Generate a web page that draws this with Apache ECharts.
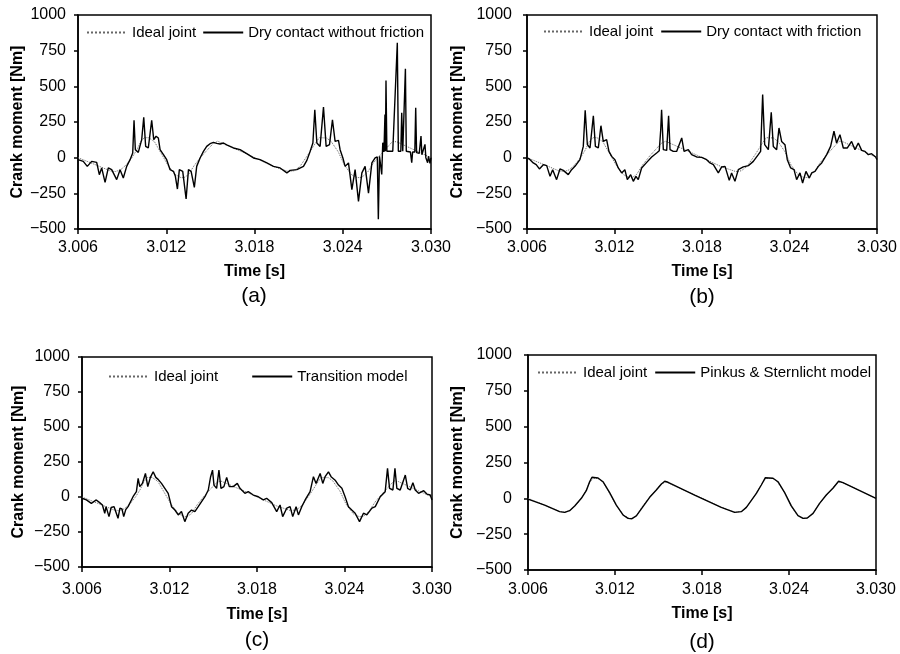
<!DOCTYPE html>
<html>
<head>
<meta charset="utf-8">
<script src="https://cdn.jsdelivr.net/npm/echarts@6/dist/echarts.min.js"></script>
<style>
html,body{margin:0;padding:0;background:#fff;}
#chart{width:900px;height:654px;}
</style>
</head>
<body>
<div id="chart"></div>
<script>
// ---- Data (time [s], crank moment [Nm]) ----
const idealJoint = [
[3.0060,0],[3.0072,-50],[3.0082,-93],[3.00855,-97],[3.0089,-85],[3.0093,-48],[3.0097,5],[3.0100,55],[3.01025,110],[3.0105,140],[3.0108,140],[3.0112,112],[3.0116,40],[3.0121,-50],[3.0126,-118],[3.0130,-140],[3.0132,-140],[3.0135,-120],[3.0139,-55],[3.0144,10],[3.0148,55],[3.0152,100],[3.0155,115],[3.0175,25],[3.0193,-62],[3.0203,-97],[3.0207,-92],[3.0211,-60],[3.0217,30],[3.0221,95],[3.0224,140],[3.0229,138],[3.0232,115],[3.0237,40],[3.0241,-50],[3.0246,-120],[3.0250,-140],[3.0253,-138],[3.0257,-100],[3.0261,-35],[3.0266,25],[3.0270,70],[3.0274,115],[3.0277,110],[3.0300,0]
];

const dryNoFriction = [
[3.00600,-14],[3.00636,-26],[3.00663,-61],[3.00693,-26],[3.00727,-33],[3.00745,-119],[3.00761,-72],[3.00784,-173],[3.00806,-72],[3.00829,-84],[3.00863,-154],[3.00886,-84],[3.00908,-143],[3.00931,-61],[3.00954,-14],[3.00972,33],[3.00981,262],[3.00990,56],[3.01010,37],[3.01033,126],[3.01047,283],[3.01060,79],[3.01078,68],[3.01101,262],[3.01115,126],[3.01131,150],[3.01146,138],[3.01158,56],[3.01181,21],[3.01203,-14],[3.01226,-84],[3.01249,-96],[3.01262,-131],[3.01276,-220],[3.01289,-84],[3.01312,-96],[3.01335,-290],[3.01351,-84],[3.01369,-96],[3.01391,-208],[3.01407,-61],[3.01430,-2],[3.01453,44],[3.01475,79],[3.01498,98],[3.01521,107],[3.01543,100],[3.01566,96],[3.01589,103],[3.01611,89],[3.01657,68],[3.01702,56],[3.01747,28],[3.01793,-2],[3.01838,-14],[3.01884,-37],[3.01929,-61],[3.01974,-72],[3.02020,-107],[3.02042,-89],[3.02088,-84],[3.02133,-61],[3.02156,-19],[3.02178,44],[3.02197,103],[3.02210,336],[3.02224,103],[3.02246,79],[3.02269,355],[3.02287,79],[3.02310,91],[3.02330,266],[3.02348,114],[3.02371,121],[3.02382,56],[3.02401,-2],[3.02416,-61],[3.02439,-37],[3.02462,-224],[3.02484,-84],[3.02507,-306],[3.02530,-107],[3.02552,-61],[3.02575,-248],[3.02598,-37],[3.02620,-2],[3.02635,5],[3.02642,-432],[3.02650,10],[3.02660,20],[3.02665,-117],[3.02670,40],[3.02672,105],[3.02680,40],[3.02687,303],[3.02690,45],[3.02694,541],[3.02700,45],[3.02740,45],[3.02771,805],[3.02778,45],[3.02795,45],[3.02801,315],[3.02808,45],[3.02820,45],[3.02826,623],[3.02832,45],[3.02860,40],[3.02869,-35],[3.02875,40],[3.02890,40],[3.02896,350],[3.02902,35],[3.02920,30],[3.02932,152],[3.02938,20],[3.02950,10],[3.02959,93],[3.02965,0],[3.02977,-35],[3.02983,10],[3.02993,-40],[3.03000,0]
];

const dryWithFriction = [
[3.00600,0],[3.00621,-14],[3.00643,-37],[3.00663,-49],[3.00685,-79],[3.00712,-49],[3.00735,-56],[3.00758,-131],[3.00776,-84],[3.00803,-154],[3.00826,-79],[3.00849,-89],[3.00883,-119],[3.00906,-84],[3.00929,-61],[3.00963,-14],[3.00986,79],[3.00999,332],[3.01014,91],[3.01032,68],[3.01055,294],[3.01069,79],[3.01089,68],[3.01107,224],[3.01123,114],[3.01146,126],[3.01162,44],[3.01181,9],[3.01203,-14],[3.01226,-72],[3.01249,-107],[3.01271,-84],[3.01288,-154],[3.01311,-119],[3.01329,-166],[3.01347,-131],[3.01363,-154],[3.01386,-72],[3.01421,-33],[3.01455,5],[3.01489,33],[3.01507,49],[3.01517,196],[3.01523,336],[3.01535,56],[3.01558,51],[3.01571,294],[3.01581,56],[3.01603,44],[3.01626,44],[3.01661,138],[3.01677,44],[3.01706,56],[3.01729,21],[3.01763,5],[3.01798,2],[3.01832,-14],[3.01855,-37],[3.01878,-49],[3.01912,-107],[3.01935,-65],[3.01958,-61],[3.01987,-159],[3.02003,-107],[3.02026,-166],[3.02049,-84],[3.02083,-65],[3.02118,-56],[3.02152,-26],[3.02186,21],[3.02202,44],[3.02216,442],[3.02230,91],[3.02255,56],[3.02275,318],[3.02289,79],[3.02312,56],[3.02328,208],[3.02346,114],[3.02369,91],[3.02385,-14],[3.02408,-72],[3.02431,-84],[3.02449,-154],[3.02472,-107],[3.02490,-178],[3.02513,-96],[3.02536,-143],[3.02552,-107],[3.02575,-96],[3.02598,-61],[3.02621,-37],[3.02655,21],[3.02682,79],[3.02705,185],[3.02723,103],[3.02746,161],[3.02769,68],[3.02797,68],[3.02826,114],[3.02849,56],[3.02872,103],[3.02895,51],[3.02918,44],[3.02941,21],[3.02963,28],[3.02991,5],[3.03000,-14]
];

const transitionModel = [
[3.00600,-9],[3.00630,-21],[3.00664,-45],[3.00698,-21],[3.00721,-40],[3.00740,-57],[3.00756,-116],[3.00765,-69],[3.00785,-140],[3.00800,-75],[3.00820,-69],[3.00847,-152],[3.00860,-80],[3.00874,-85],[3.00886,-140],[3.00900,-90],[3.00916,-69],[3.00950,2],[3.00973,38],[3.00985,133],[3.00996,74],[3.01014,97],[3.01035,168],[3.01051,74],[3.01069,140],[3.01088,180],[3.01106,140],[3.01122,126],[3.01145,97],[3.01168,62],[3.01191,26],[3.01214,-69],[3.01237,-93],[3.01260,-128],[3.01282,-104],[3.01305,-176],[3.01328,-116],[3.01351,-93],[3.01374,-104],[3.01397,-69],[3.01420,-33],[3.01443,2],[3.01466,50],[3.01482,145],[3.01495,192],[3.01505,85],[3.01523,62],[3.01539,192],[3.01553,62],[3.01573,74],[3.01592,140],[3.01610,74],[3.01637,74],[3.01665,97],[3.01683,62],[3.01717,26],[3.01740,38],[3.01775,14],[3.01809,2],[3.01843,-21],[3.01866,-9],[3.01901,-40],[3.01935,-104],[3.01958,-57],[3.01976,-140],[3.02004,-80],[3.02027,-69],[3.02045,-140],[3.02068,-69],[3.02084,-128],[3.02107,-69],[3.02130,-21],[3.02164,38],[3.02187,145],[3.02205,97],[3.02233,168],[3.02251,97],[3.02267,145],[3.02290,180],[3.02308,145],[3.02336,120],[3.02359,85],[3.02382,62],[3.02404,2],[3.02427,-69],[3.02450,-93],[3.02473,-116],[3.02503,-176],[3.02530,-116],[3.02553,-128],[3.02588,-80],[3.02611,-69],[3.02645,2],[3.02679,38],[3.02695,204],[3.02709,62],[3.02732,50],[3.02746,204],[3.02759,62],[3.02782,50],[3.02817,157],[3.02833,62],[3.02851,50],[3.02869,102],[3.02885,50],[3.02908,26],[3.02943,45],[3.02965,21],[3.02988,14],[3.03000,-21]
];

const pinkusSternlicht = [
[3.0060,-5],[3.00715,-47],[3.00818,-93],[3.00853,-98],[3.00887,-86],[3.00922,-53],[3.00968,0],[3.01002,53],[3.01025,116],[3.01041,147],[3.01083,142],[3.01117,116],[3.01163,40],[3.01209,-47],[3.01255,-116],[3.01290,-140],[3.01317,-142],[3.01347,-123],[3.01393,-58],[3.01439,7],[3.01485,58],[3.01520,100],[3.01543,119],[3.01566,112],[3.01749,23],[3.01933,-63],[3.02025,-98],[3.02071,-93],[3.02106,-63],[3.02175,35],[3.02209,93],[3.02237,144],[3.02290,140],[3.02324,116],[3.02370,40],[3.02416,-53],[3.02462,-121],[3.02497,-140],[3.02526,-137],[3.02566,-105],[3.02611,-35],[3.02657,23],[3.02703,70],[3.02742,119],[3.02772,109],[3.03000,0]
];

const panelNames = ['Dry contact without friction','Dry contact with friction','Transition model','Pinkus & Sternlicht model'];
const panelData = [dryNoFriction, dryWithFriction, transitionModel, pinkusSternlicht];
const panelLetters = ['(a)','(b)','(c)','(d)'];

// ---- Layout ----
const FONT = 'Liberation Sans, Arial, Helvetica, sans-serif';
const grids = [
  {left:78, top:15, width:353, height:214},
  {left:527, top:15, width:350, height:214},
  {left:82, top:357, width:350, height:210},
  {left:528, top:355, width:348, height:215}
];
const axisGaps = [
  {xMargin:11, xName:35, yMargin:12, yName:51},
  {xMargin:11, xName:35, yMargin:15, yName:61},
  {xMargin:15, xName:40, yMargin:12, yName:55},
  {xMargin:12, xName:36, yMargin:16, yName:62}
];
const legendPos = [
  {left:86, top:25, gap:6},
  {left:543, top:24, gap:7},
  {left:108, top:369, gap:33},
  {left:537, top:365, gap:7}
];
const letterPos = [
  {x:254, y:286}, {x:702, y:287}, {x:257, y:630}, {x:702, y:632}
];

const option = {
  animation:false,
  backgroundColor:'#fff',
  grid: grids.map(g => Object.assign({show:true, borderColor:'#000', borderWidth:1.5, backgroundColor:'transparent', containLabel:false}, g)),
  xAxis: grids.map((g,i) => ({
    gridIndex:i, type:'value', min:3.006, max:3.030, interval:0.006,
    name:'Time [s]', nameLocation:'middle', nameGap:axisGaps[i].xName,
    nameTextStyle:{fontFamily:FONT, fontWeight:'bold', fontSize:16, color:'#000'},
    axisLine:{show:true, onZero:false, lineStyle:{color:'#000', width:1.5}},
    axisTick:{show:true, length:5, lineStyle:{color:'#000', width:1.5}},
    axisLabel:{fontFamily:FONT, fontSize:16, color:'#000', margin:axisGaps[i].xMargin, showMinLabel:true, showMaxLabel:true,
      formatter: v => v.toFixed(3)},
    splitLine:{show:false}
  })),
  yAxis: grids.map((g,i) => ({
    gridIndex:i, type:'value', min:-500, max:1000, interval:250,
    name:'Crank moment [Nm]', nameLocation:'middle', nameGap:axisGaps[i].yName,
    nameTextStyle:{fontFamily:FONT, fontWeight:'bold', fontSize:16, color:'#000'},
    axisLine:{show:true, lineStyle:{color:'#000', width:1.5}},
    axisTick:{show:true, length:4, lineStyle:{color:'#000', width:1.5}},
    axisLabel:{fontFamily:FONT, fontSize:16, color:'#000', margin:axisGaps[i].yMargin,
      formatter: v => (v < 0 ? '\u2212' + Math.abs(v) : String(v))},
    splitLine:{show:false}
  })),
  legend: legendPos.map((p,i) => ({
    data:['Ideal joint', panelNames[i]],
    left:p.left, top:p.top, padding:0, itemGap:p.gap,
    itemWidth:40, itemHeight:10, selectedMode:false,
    itemStyle:{opacity:0, borderWidth:0},
    textStyle:{fontFamily:FONT, fontSize:15, color:'#000'}
  })),
  title: letterPos.map((p,i) => ({
    text:panelLetters[i], left:p.x, top:p.y, textAlign:'center', padding:0,
    textStyle:{fontFamily:FONT, fontSize:21, fontWeight:'normal', color:'#000'}
  })),
  series: []
};

for (let i = 0; i < 4; i++) {
  option.series.push({
    name:'Ideal joint', type:'line', xAxisIndex:i, yAxisIndex:i,
    data: idealJoint, symbol:'none', showSymbol:false, smooth:false,
    itemStyle:{color:'#666'},
    lineStyle:{color:'#666', width:1, type:'dotted'}, z:2
  });
  option.series.push({
    name:panelNames[i], type:'line', xAxisIndex:i, yAxisIndex:i,
    data: panelData[i], symbol:'none', showSymbol:false, smooth:false,
    itemStyle:{color:'#000'},
    lineStyle:{color:'#000', width:1.4, type:'solid'}, z:3
  });
}

const chart = echarts.init(document.getElementById('chart'), null, {renderer:'canvas'});
chart.setOption(option);
</script>
</body>
</html>
